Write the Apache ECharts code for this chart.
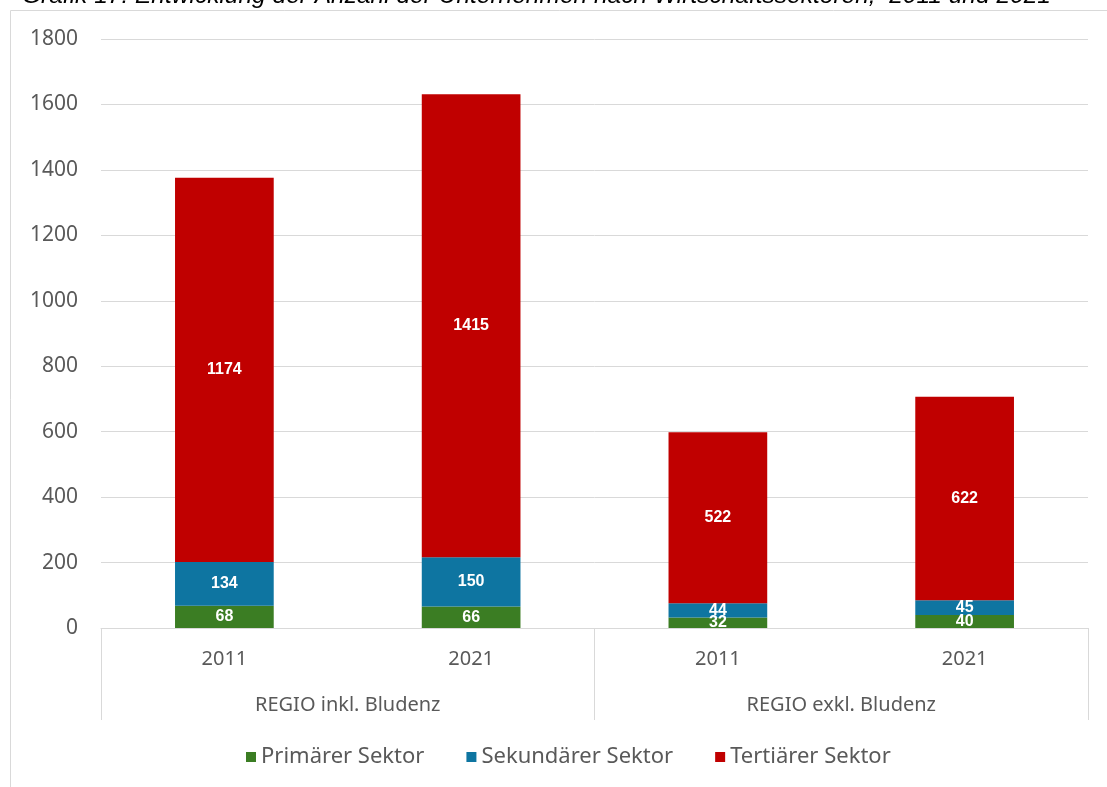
<!DOCTYPE html>
<html>
<head>
<meta charset="utf-8">
<script src="https://cdn.jsdelivr.net/npm/echarts@6/dist/echarts.min.js"></script>
<style>
  html, body { margin: 0; padding: 0; background: #fff; }
  #chart { width: 1107px; height: 787px; }
</style>
</head>
<body>
<div id="chart"></div>
<script>
// Daten
const years = ['2011', '2021', '2011', '2021'];
const regions = ['REGIO inkl. Bludenz', 'REGIO exkl. Bludenz'];
const seriesNames = ['Primärer Sektor', 'Sekundärer Sektor', 'Tertiärer Sektor'];
const primaer = [68, 66, 32, 40];
const sekundaer = [134, 150, 44, 45];
const tertiaer = [1174, 1415, 522, 622];
const colors = ['#3b7d23', '#0e75a1', '#c00000'];

const chart = echarts.init(document.getElementById('chart'));

const axisFont = 'Noto Sans, sans-serif';
const gridColor = '#d9d9d9';
const textColor = '#595959';

function barSeries(name, data, color) {
  return {
    name: name,
    type: 'bar',
    stack: 'total',
    barWidth: '40%',
    data: data,
    itemStyle: { color: color },
    label: {
      show: true,
      position: 'inside',
      color: '#fff',
      fontWeight: 'bold',
      fontSize: 16,
      fontFamily: 'Liberation Sans, Arial, sans-serif'
    }
  };
}

chart.setOption({
  animation: false,
  graphic: [
    {
      type: 'rect',
      shape: { x: 10.5, y: 10.5, width: 1200, height: 900 },
      style: { fill: 'none', stroke: gridColor, lineWidth: 1 },
      z: -1
    },
    {
      type: 'text',
      left: 22,
      top: -16,
      style: {
        text: 'Grafik 17: Entwicklung der Anzahl der Unternehmen nach Wirtschaftssektoren,  2011 und 2021',
        fontStyle: 'italic',
        fontSize: 24.5,
        fontFamily: 'Liberation Sans, Arial, sans-serif',
        fill: '#000'
      }
    }
  ],
  grid: { left: 101, right: 19, top: 39, bottom: 159 },
  legend: {
    bottom: 14,
    left: 241,
    icon: 'rect',
    itemWidth: 10,
    itemHeight: 10,
    itemGap: 42,
    textStyle: { color: textColor, fontSize: 22, fontFamily: axisFont, padding: [0, 0, 0, 0] },
    data: seriesNames
  },
  xAxis: [
    {
      type: 'category',
      data: years,
      axisLine: { show: true, lineStyle: { color: gridColor } },
      axisTick: { show: false },
      axisLabel: { color: textColor, fontSize: 20, fontFamily: axisFont, margin: 21 }
    },
    {
      type: 'category',
      data: regions,
      position: 'bottom',
      axisLine: { show: false },
      axisTick: { show: true, length: 92, lineStyle: { color: gridColor } },
      axisLabel: { color: textColor, fontSize: 20, fontFamily: axisFont, margin: 67 }
    }
  ],
  yAxis: {
    type: 'value',
    min: 0,
    max: 1800,
    interval: 200,
    axisLine: { show: false },
    axisTick: { show: false },
    splitLine: { lineStyle: { color: gridColor } },
    axisLabel: {
      color: textColor, fontSize: 21, fontFamily: axisFont, margin: 23,
      formatter: function (v) { return String(v); }
    }
  },
  series: [
    barSeries(seriesNames[0], primaer, colors[0]),
    barSeries(seriesNames[1], sekundaer, colors[1]),
    barSeries(seriesNames[2], tertiaer, colors[2])
  ]
});
</script>
</body>
</html>
